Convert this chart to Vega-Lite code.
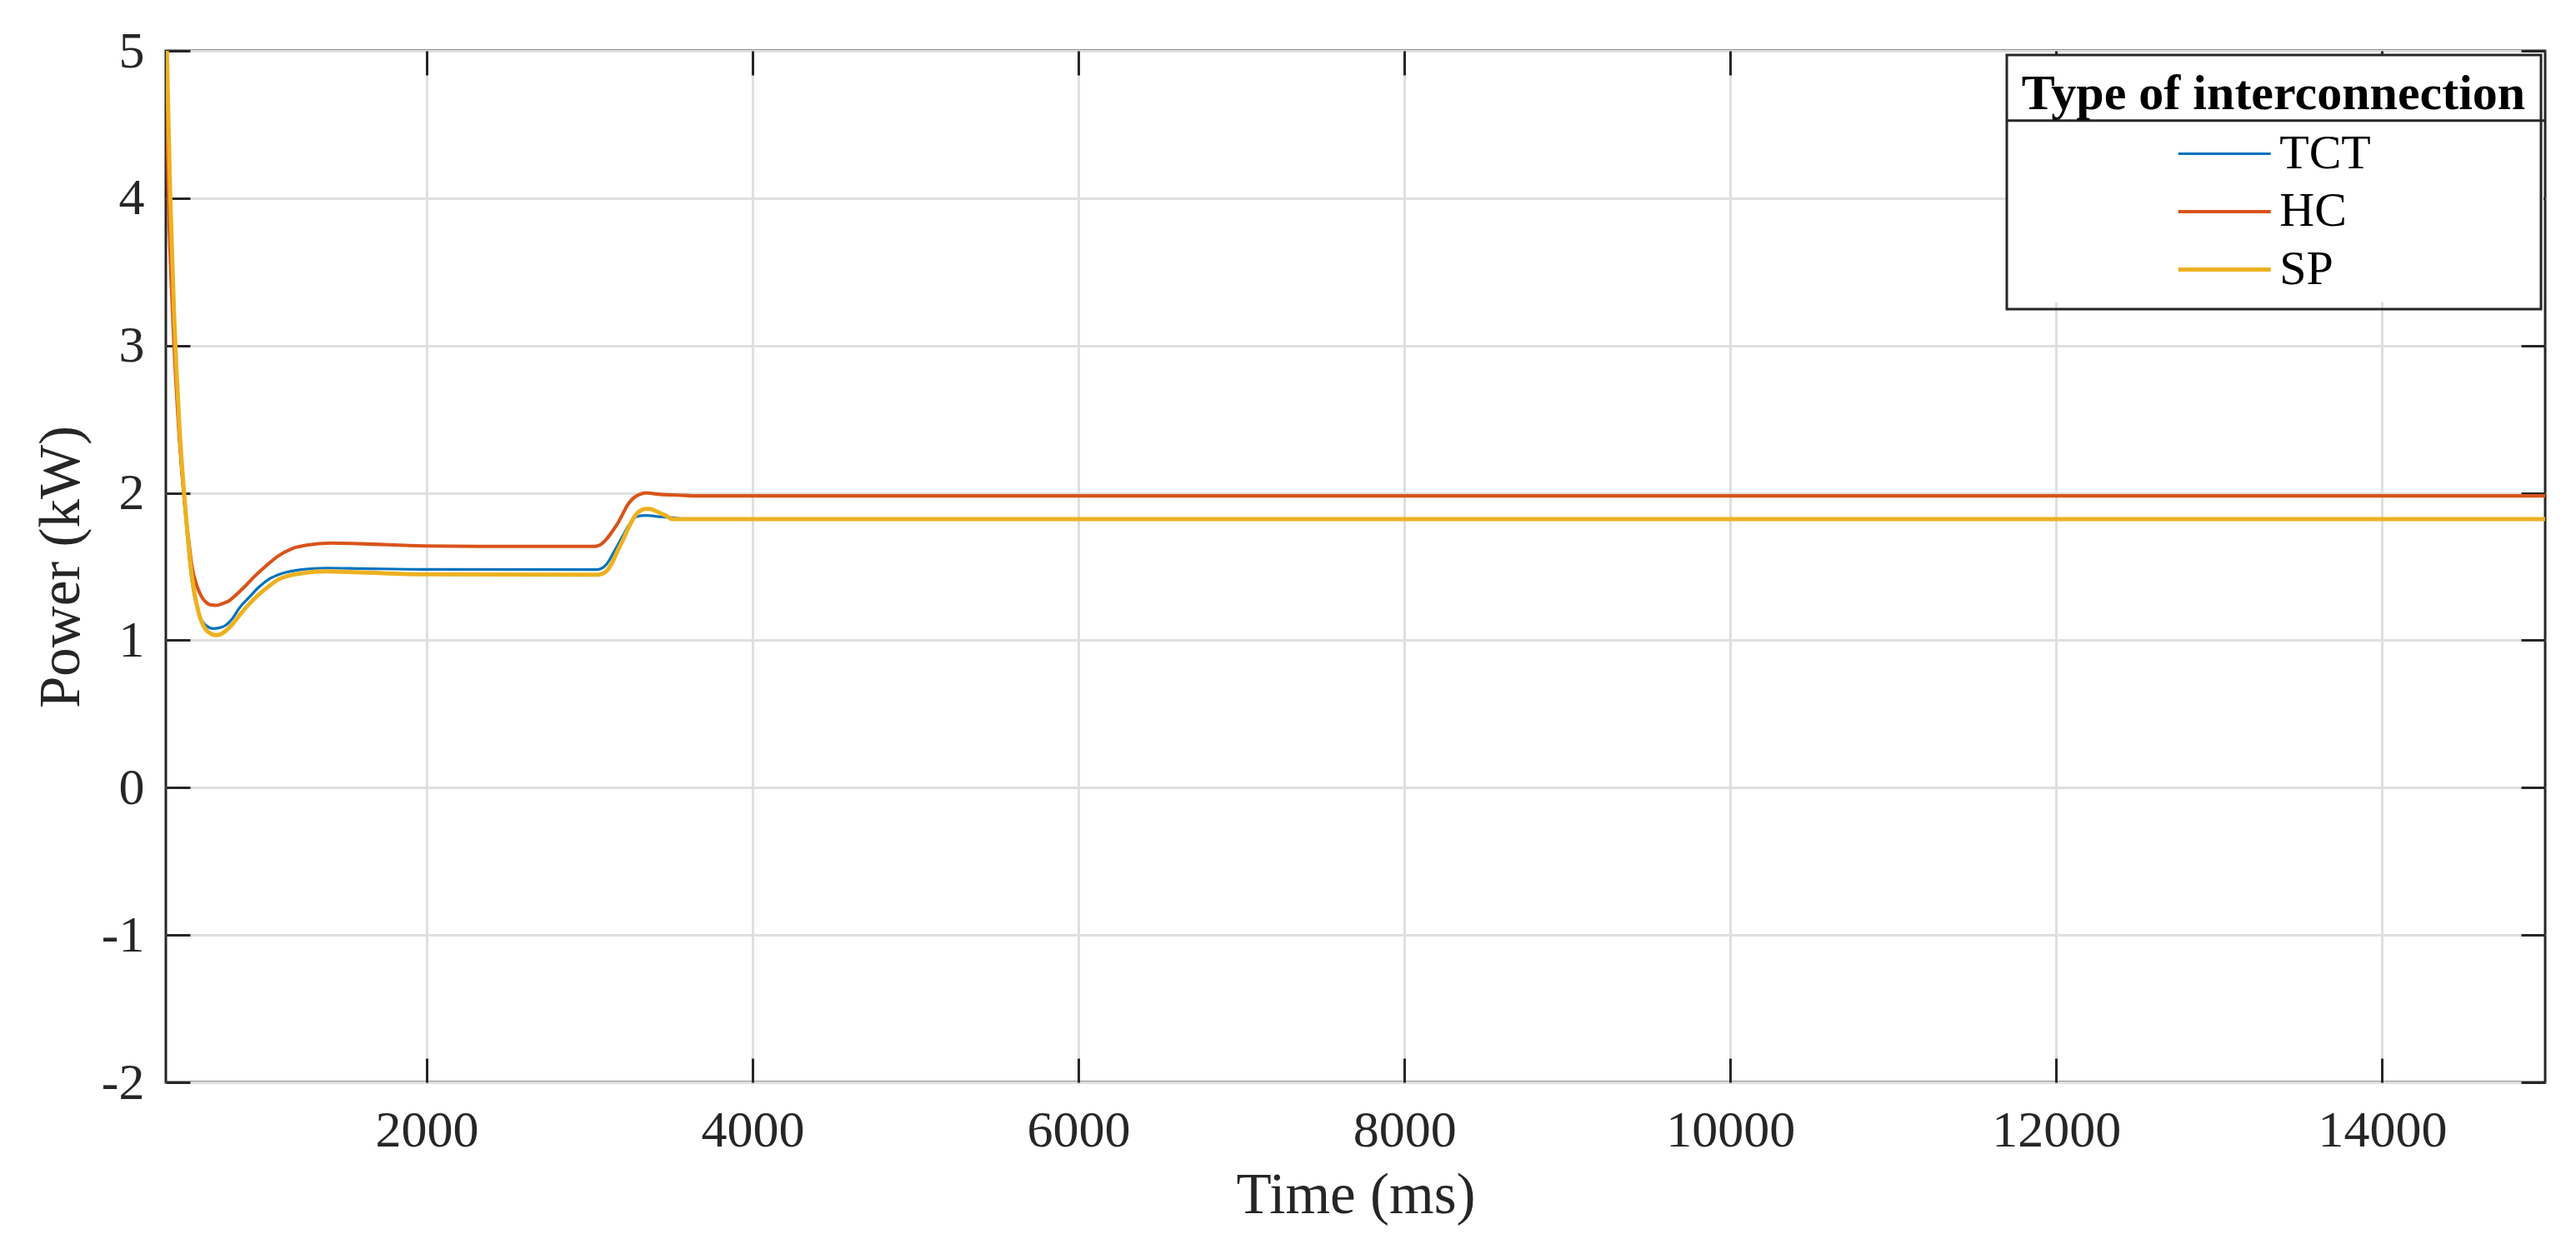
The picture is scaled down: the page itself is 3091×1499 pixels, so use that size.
{
  "$schema": "https://vega.github.io/schema/vega-lite/v6.json",
  "width": 2855,
  "height": 1238,
  "autosize": {"type": "none"},
  "padding": {"left": 199, "top": 61, "right": 37, "bottom": 200},
  "background": "white",
  "config": {
    "view": {"stroke": "#262626", "strokeWidth": 3},
    "font": "Liberation Serif",
    "legend": {"strokeWidth": 3}
  },
  "datasets": {
    "curves": [
      {"s": "TCT", "t": 403, "p": 5.0}, {"s": "TCT", "t": 425, "p": 4.0}, {"s": "TCT", "t": 445, "p": 3.23},
      {"s": "TCT", "t": 480, "p": 2.42}, {"s": "TCT", "t": 512, "p": 1.96}, {"s": "TCT", "t": 555, "p": 1.44},
      {"s": "TCT", "t": 600, "p": 1.19}, {"s": "TCT", "t": 647, "p": 1.1}, {"s": "TCT", "t": 691, "p": 1.08},
      {"s": "TCT", "t": 730, "p": 1.085}, {"s": "TCT", "t": 764, "p": 1.1}, {"s": "TCT", "t": 810, "p": 1.15},
      {"s": "TCT", "t": 852, "p": 1.22}, {"s": "TCT", "t": 910, "p": 1.29}, {"s": "TCT", "t": 970, "p": 1.36},
      {"s": "TCT", "t": 1040, "p": 1.42}, {"s": "TCT", "t": 1116, "p": 1.455}, {"s": "TCT", "t": 1230, "p": 1.48},
      {"s": "TCT", "t": 1381, "p": 1.49}, {"s": "TCT", "t": 1600, "p": 1.487}, {"s": "TCT", "t": 2000, "p": 1.481},
      {"s": "TCT", "t": 3040, "p": 1.479}, {"s": "TCT", "t": 3070, "p": 1.486}, {"s": "TCT", "t": 3107, "p": 1.52},
      {"s": "TCT", "t": 3140, "p": 1.58}, {"s": "TCT", "t": 3176, "p": 1.653}, {"s": "TCT", "t": 3205, "p": 1.71},
      {"s": "TCT", "t": 3232, "p": 1.766}, {"s": "TCT", "t": 3260, "p": 1.81}, {"s": "TCT", "t": 3290, "p": 1.84},
      {"s": "TCT", "t": 3346, "p": 1.847}, {"s": "TCT", "t": 3438, "p": 1.838}, {"s": "TCT", "t": 3517, "p": 1.831},
      {"s": "TCT", "t": 3580, "p": 1.824}, {"s": "TCT", "t": 15000, "p": 1.822},

      {"s": "HC", "t": 400, "p": 5.0}, {"s": "HC", "t": 412, "p": 4.2}, {"s": "HC", "t": 441, "p": 3.23},
      {"s": "HC", "t": 480, "p": 2.42}, {"s": "HC", "t": 515, "p": 1.93}, {"s": "HC", "t": 540, "p": 1.68},
      {"s": "HC", "t": 559, "p": 1.51}, {"s": "HC", "t": 590, "p": 1.37}, {"s": "HC", "t": 617, "p": 1.3},
      {"s": "HC", "t": 650, "p": 1.255}, {"s": "HC", "t": 676, "p": 1.24}, {"s": "HC", "t": 710, "p": 1.237},
      {"s": "HC", "t": 750, "p": 1.25}, {"s": "HC", "t": 790, "p": 1.27}, {"s": "HC", "t": 823, "p": 1.3},
      {"s": "HC", "t": 880, "p": 1.36}, {"s": "HC", "t": 941, "p": 1.43}, {"s": "HC", "t": 1010, "p": 1.5},
      {"s": "HC", "t": 1087, "p": 1.57}, {"s": "HC", "t": 1170, "p": 1.62}, {"s": "HC", "t": 1263, "p": 1.645},
      {"s": "HC", "t": 1410, "p": 1.66}, {"s": "HC", "t": 1600, "p": 1.655}, {"s": "HC", "t": 2000, "p": 1.64},
      {"s": "HC", "t": 2500, "p": 1.637}, {"s": "HC", "t": 3027, "p": 1.637}, {"s": "HC", "t": 3060, "p": 1.645},
      {"s": "HC", "t": 3107, "p": 1.69}, {"s": "HC", "t": 3140, "p": 1.74}, {"s": "HC", "t": 3176, "p": 1.8},
      {"s": "HC", "t": 3205, "p": 1.86}, {"s": "HC", "t": 3232, "p": 1.916}, {"s": "HC", "t": 3260, "p": 1.955},
      {"s": "HC", "t": 3290, "p": 1.98}, {"s": "HC", "t": 3320, "p": 1.995}, {"s": "HC", "t": 3346, "p": 2.0},
      {"s": "HC", "t": 3390, "p": 1.995}, {"s": "HC", "t": 3438, "p": 1.99}, {"s": "HC", "t": 3550, "p": 1.985},
      {"s": "HC", "t": 3655, "p": 1.98}, {"s": "HC", "t": 15000, "p": 1.98},

      {"s": "SP", "t": 406, "p": 5.0}, {"s": "SP", "t": 427, "p": 4.01}, {"s": "SP", "t": 450, "p": 3.23},
      {"s": "SP", "t": 485, "p": 2.42}, {"s": "SP", "t": 515, "p": 1.96}, {"s": "SP", "t": 559, "p": 1.44},
      {"s": "SP", "t": 603, "p": 1.18}, {"s": "SP", "t": 647, "p": 1.07}, {"s": "SP", "t": 676, "p": 1.045},
      {"s": "SP", "t": 706, "p": 1.035}, {"s": "SP", "t": 735, "p": 1.04}, {"s": "SP", "t": 764, "p": 1.06},
      {"s": "SP", "t": 810, "p": 1.11}, {"s": "SP", "t": 852, "p": 1.17}, {"s": "SP", "t": 910, "p": 1.245},
      {"s": "SP", "t": 970, "p": 1.31}, {"s": "SP", "t": 1030, "p": 1.365}, {"s": "SP", "t": 1087, "p": 1.41},
      {"s": "SP", "t": 1160, "p": 1.44}, {"s": "SP", "t": 1234, "p": 1.454}, {"s": "SP", "t": 1381, "p": 1.467},
      {"s": "SP", "t": 1600, "p": 1.46}, {"s": "SP", "t": 2000, "p": 1.447}, {"s": "SP", "t": 3052, "p": 1.445},
      {"s": "SP", "t": 3080, "p": 1.452}, {"s": "SP", "t": 3107, "p": 1.473}, {"s": "SP", "t": 3140, "p": 1.53},
      {"s": "SP", "t": 3176, "p": 1.615}, {"s": "SP", "t": 3205, "p": 1.68}, {"s": "SP", "t": 3232, "p": 1.747},
      {"s": "SP", "t": 3260, "p": 1.81}, {"s": "SP", "t": 3290, "p": 1.86}, {"s": "SP", "t": 3320, "p": 1.885},
      {"s": "SP", "t": 3346, "p": 1.892}, {"s": "SP", "t": 3375, "p": 1.89}, {"s": "SP", "t": 3403, "p": 1.879},
      {"s": "SP", "t": 3430, "p": 1.865}, {"s": "SP", "t": 3460, "p": 1.85}, {"s": "SP", "t": 3485, "p": 1.835},
      {"s": "SP", "t": 3506, "p": 1.822}, {"s": "SP", "t": 15000, "p": 1.822}
    ]
  },
  "layer": [
    {
      "data": {"name": "curves"},
      "mark": {"type": "line", "interpolate": "monotone", "clip": true},
      "encoding": {
        "x": {
          "field": "t", "type": "quantitative",
          "scale": {"domain": [400, 15000], "nice": false, "zero": false},
          "axis": {
            "orient": "bottom", "values": [2000, 4000, 6000, 8000, 10000, 12000, 14000], "format": "d",
            "grid": true, "gridColor": "#dfdfdf", "gridWidth": 3,
            "domain": false, "ticks": true, "tickSize": -29, "tickWidth": 3, "tickColor": "#262626",
            "labelFont": "Liberation Serif", "labelFontSize": 62, "labelColor": "#262626",
            "labelPadding": 56, "labelFlush": false, "labelOverlap": false,
            "title": "Time (ms)", "titleFont": "Liberation Serif", "titleFontSize": 69,
            "titleFontWeight": "normal", "titleColor": "#262626",
            "titleY": 156, "titleBaseline": "alphabetic"
          }
        },
        "y": {
          "field": "p", "type": "quantitative",
          "scale": {"domain": [-2, 5], "nice": false, "zero": false},
          "axis": {
            "orient": "left", "values": [-2, -1, 0, 1, 2, 3, 4, 5],
            "labelExpr": "datum.value < 0 ? '-' + abs(datum.value) : '' + datum.value",
            "grid": true, "gridColor": "#dfdfdf", "gridWidth": 3,
            "domain": false, "ticks": true, "tickSize": -29, "tickWidth": 3, "tickColor": "#262626",
            "labelFont": "Liberation Serif", "labelFontSize": 62, "labelColor": "#262626",
            "labelPadding": 55, "labelFlush": false, "labelOverlap": false,
            "title": "Power (kW)", "titleFont": "Liberation Serif", "titleFontSize": 69,
            "titleFontWeight": "normal", "titleColor": "#262626",
            "titleX": -105, "titleY": 619, "titleBaseline": "alphabetic", "titleAlign": "center"
          }
        },
        "color": {
          "field": "s", "type": "nominal",
          "scale": {"domain": ["TCT", "HC", "SP"], "range": ["#0072BD", "#D95319", "#EDB120"]},
          "legend": {
            "orient": "none", "legendX": 2209, "legendY": 5,
            "title": "Type of interconnection", "titleFont": "Liberation Serif", "titleFontSize": 60,
            "titleFontWeight": "bold", "titleColor": "black", "titleAnchor": "middle", "titlePadding": 11,
            "titleLimit": 2000, "labelLimit": 1000,
            "labelFont": "Liberation Serif", "labelFontSize": 58, "labelColor": "black",
            "labelOffset": 35.5, "symbolType": "M-2,0H2", "symbolSize": 3080, "symbolStrokeWidth": 4,
            "symbolOffset": 27.75, "strokeColor": "#262626", "padding": 18, "rowPadding": 10
          }
        },
        "strokeWidth": {
          "field": "s", "type": "nominal",
          "scale": {"domain": ["TCT", "HC", "SP"], "range": [3.2, 5, 5]},
          "legend": null
        }
      }
    },
    {
      "data": {"values": [{}]},
      "mark": {"type": "rect", "color": "white"},
      "encoding": {
        "x": {"datum": 11696, "type": "quantitative",
              "axis": {"orient": "top", "values": [2000, 4000, 6000, 8000, 10000, 12000, 14000], "labels": false, "grid": false, "domain": false, "ticks": true, "tickSize": -29, "tickWidth": 3, "tickColor": "#262626", "title": null}},
        "x2": {"datum": 14990},
        "y": {"datum": 4.972, "type": "quantitative",
              "axis": {"orient": "right", "values": [-2, -1, 0, 1, 2, 3, 4, 5], "labels": false, "grid": false, "domain": false, "ticks": true, "tickSize": -29, "tickWidth": 3, "tickColor": "#262626", "title": null}},
        "y2": {"datum": 3.294}
      }
    },
    {
      "data": {"values": [{}]},
      "mark": {"type": "rule", "color": "#262626", "strokeWidth": 3},
      "encoding": {
        "x": {"datum": 11696, "type": "quantitative", "axis": null},
        "x2": {"datum": 15000},
        "y": {"datum": 4.527, "type": "quantitative", "axis": null}
      }
    }
  ]
}
